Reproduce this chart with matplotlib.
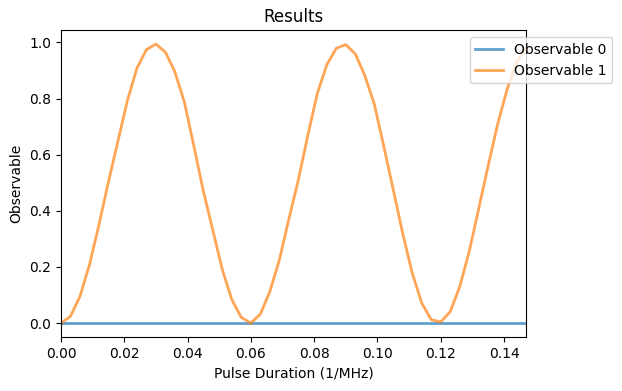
import matplotlib
matplotlib.use('Agg')
import matplotlib.pyplot as plt
import numpy as np

# Pulse durations (1/MHz), 50 samples spaced 0.003 apart
durations = [round(0.003 * i, 3) for i in range(50)]

# Observable 0 stays at zero for every pulse duration
observable_0 = [0.0] * 50

# Observable 1
observable_1 = [
    0.000, 0.024, 0.095, 0.207, 0.350, 0.503, 0.648, 0.793, 0.908, 0.974,
    0.994, 0.965, 0.895, 0.787, 0.630, 0.470, 0.330, 0.190, 0.083, 0.020,
    0.000, 0.032, 0.112, 0.225, 0.370, 0.510, 0.669, 0.818, 0.920, 0.979,
    0.992, 0.959, 0.882, 0.780, 0.630, 0.475, 0.318, 0.178, 0.071, 0.012,
    0.004, 0.041, 0.130, 0.255, 0.408, 0.562, 0.710, 0.834, 0.930, 0.980,
]

series = {'Observable 0': observable_0, 'Observable 1': observable_1}

fig = plt.figure(figsize=(6.22, 3.91), dpi=100)
ax = fig.add_axes([0.098, 0.138, 0.748, 0.785])

for name, values in series.items():
    ax.plot(durations, values, linewidth=2, alpha=0.7, label=name)

ax.set_xlim(0, durations[-1])
ax.set_title('Results')
ax.set_xlabel('Pulse Duration (1/MHz)')
ax.set_ylabel('Observable')
ax.legend(loc='upper right', bbox_to_anchor=(1.2, 1))

plt.savefig('out.png', dpi=100)
